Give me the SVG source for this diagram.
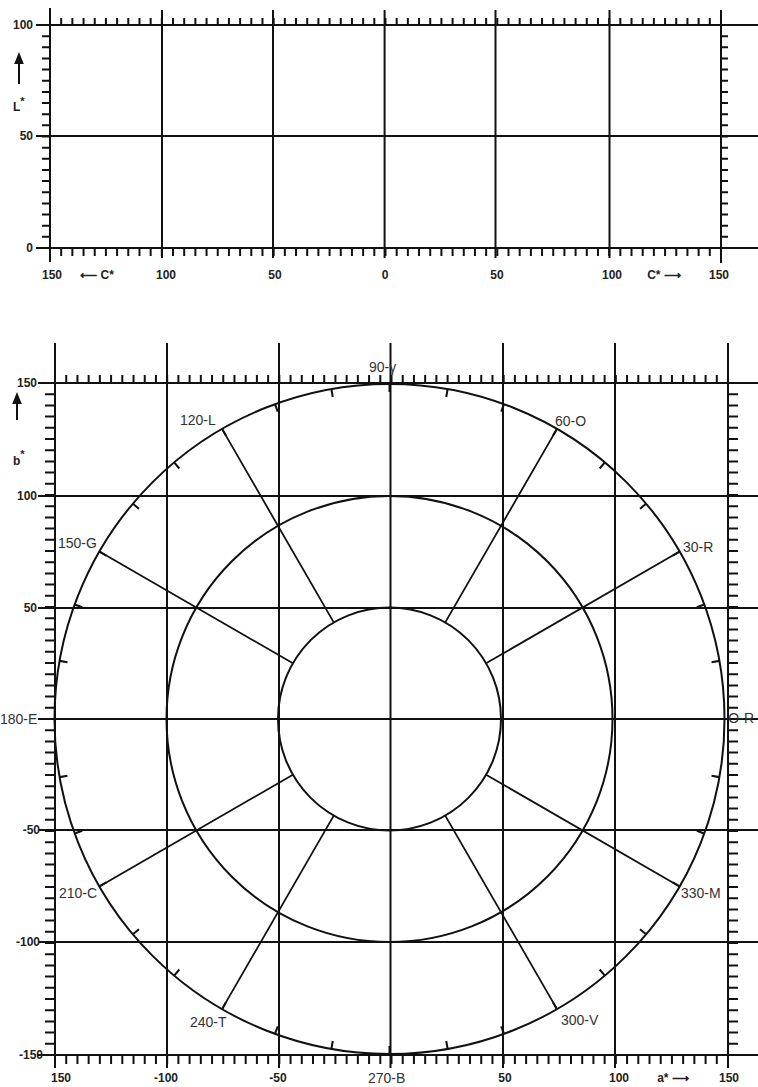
<svg xmlns="http://www.w3.org/2000/svg" width="758" height="1087" viewBox="0 0 758 1087">
<style>
.g{stroke:#111;stroke-width:2;fill:none}
.t{stroke:#111;fill:none}
.r{stroke:#111;stroke-width:1.8;fill:none}
.n{font-family:"Liberation Sans",Arial,sans-serif;font-size:12px;font-weight:bold;fill:#222}
.c{font-family:"Liberation Sans",Arial,sans-serif;font-size:14px;fill:#333}
</style>
<defs>
<marker id="ah" viewBox="0 0 10 10" refX="5" refY="5" markerWidth="6" markerHeight="6" orient="auto">
<path d="M0,1 L10,5 L0,9 z" fill="#111"/>
</marker>
</defs>
<rect width="758" height="1087" fill="#fff"/>

<g id="top-chart">
  <g id="top-grid">
    <path class="g" d="M36,25H758M36,136H758M36,248H758"/>
    <path class="g" d="M50,8V262M162,10V258M273,10V258M384.6,10V258M495.5,10V258M609.5,10V258M721,10V263"/>
  </g>
  <g id="top-ticks">
    <line class="t" x1="49" y1="21.5" x2="722" y2="21.5" stroke-width="7" stroke-dasharray="2 9.183"/>
    <line class="t" x1="49" y1="252" x2="722" y2="252" stroke-width="8" stroke-dasharray="2 9.183"/>
    <line class="t" x1="46" y1="24" x2="46" y2="249" stroke-width="8" stroke-dasharray="2 9.15"/>
    <line class="t" x1="724.5" y1="24" x2="724.5" y2="249" stroke-width="7" stroke-dasharray="2 9.15"/>
  </g>
  <g id="top-labels">
    <text class="n" x="33" y="29" text-anchor="end">100</text>
    <text class="n" x="33" y="140" text-anchor="end">50</text>
    <text class="n" x="33" y="252" text-anchor="end">0</text>
    <text class="n" x="52" y="279" text-anchor="middle">150</text>
    <text class="n" x="97" y="279" text-anchor="middle">⟵ C*</text>
    <text class="n" x="166" y="279" text-anchor="middle">100</text>
    <text class="n" x="275" y="279" text-anchor="middle">50</text>
    <text class="n" x="385" y="279" text-anchor="middle">0</text>
    <text class="n" x="497" y="279" text-anchor="middle">50</text>
    <text class="n" x="612" y="279" text-anchor="middle">100</text>
    <text class="n" x="664" y="279" text-anchor="middle">C* ⟶</text>
    <text class="n" x="719" y="279" text-anchor="middle">150</text>
    <line class="t" x1="19" y1="84" x2="19" y2="58" stroke-width="2" marker-end="url(#ah)"/>
    <text class="n" x="13" y="111" font-size="13">L<tspan dy="-6" font-size="11">*</tspan></text>
  </g>
</g>

<g id="bottom-chart">
  <g id="ab-grid">
    <path class="g" d="M38,383H758M38,496H758M38,608H758M38,719H758M38,830H758M38,942H758M38,1055H758"/>
    <path class="g" d="M55,343V1068M167,343V1068M279,343V1068M390.5,343V1068M503,343V1068M615,343V1068M728,343V1068"/>
  </g>
  <g id="ab-ticks">
    <line class="t" x1="54" y1="379" x2="729" y2="379" stroke-width="8" stroke-dasharray="2 9.217"/>
    <line class="t" x1="54" y1="1059.5" x2="729" y2="1059.5" stroke-width="9" stroke-dasharray="2 9.217"/>
    <line class="t" x1="50" y1="382" x2="50" y2="1056" stroke-width="10" stroke-dasharray="2 9.2"/>
    <line class="t" x1="733" y1="382" x2="733" y2="1056" stroke-width="10" stroke-dasharray="2 9.2"/>
  </g>
  <g id="chroma-circles">
    <circle class="g" cx="389.5" cy="719" r="111.5"/>
    <circle class="g" cx="389.5" cy="719" r="223"/>
    <circle class="g" cx="389.5" cy="719" r="335"/>
    <circle class="t" cx="389.5" cy="719" r="331" stroke-width="8" pathLength="360" stroke-dasharray="0.35 9.65" stroke-dashoffset="0.175"/>
  </g>
  <g id="hue-lines">
    <path class="r" d="M486.1,663.25L679.6,551.5M445.25,622.4L557,428.9M333.75,622.4L222,428.9M292.9,663.25L99.4,551.5M292.9,774.75L99.4,886.5M333.75,815.6L222,1009.1M445.25,815.6L557,1009.1M486.1,774.75L679.6,886.5"/>
  </g>
  <g id="ab-labels">
    <text class="n" x="37" y="387" text-anchor="end">150</text>
    <text class="n" x="37" y="500" text-anchor="end">100</text>
    <text class="n" x="37" y="612" text-anchor="end">50</text>
    <text class="n" x="40" y="834" text-anchor="end">-50</text>
    <text class="n" x="40" y="946" text-anchor="end">-100</text>
    <text class="n" x="43" y="1059" text-anchor="end">-150</text>
    <text class="n" x="61" y="1082" text-anchor="middle">150</text>
    <text class="n" x="166" y="1082" text-anchor="middle">-100</text>
    <text class="n" x="278" y="1082" text-anchor="middle">-50</text>
    <text class="n" x="505" y="1082" text-anchor="middle">50</text>
    <text class="n" x="619" y="1082" text-anchor="middle">100</text>
    <text class="n" x="673" y="1082" text-anchor="middle">a* ⟶</text>
    <text class="n" x="729" y="1082" text-anchor="middle">150</text>
    <line class="t" x1="17" y1="420" x2="17" y2="398" stroke-width="2" marker-end="url(#ah)"/>
    <text class="n" x="13" y="465" font-size="14">b<tspan dy="-7" font-size="11">*</tspan></text>
  </g>
  <g id="hue-labels">
    <text class="c" x="369" y="372">90-γ</text>
    <text class="c" x="180" y="425">120-L</text>
    <text class="c" x="555" y="426">60-O</text>
    <text class="c" x="58" y="548">150-G</text>
    <text class="c" x="683" y="552">30-R</text>
    <text class="c" x="0" y="724">180-E</text>
    <text class="c" x="754" y="723" font-size="11" text-anchor="end">O-R</text>
    <text class="c" x="59" y="898">210-C</text>
    <text class="c" x="681" y="898">330-M</text>
    <text class="c" x="190" y="1027">240-T</text>
    <text class="c" x="561" y="1025">300-V</text>
    <text class="c" x="368" y="1083">270-B</text>
  </g>
</g>
</svg>
